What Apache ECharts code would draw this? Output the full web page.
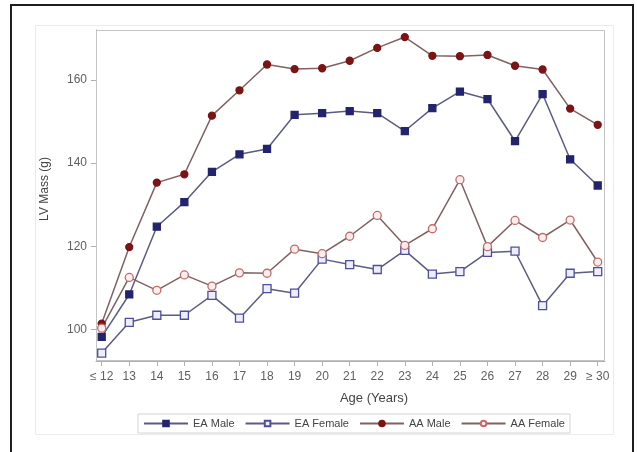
<!DOCTYPE html>
<html>
<head>
<meta charset="utf-8">
<script src="https://cdn.jsdelivr.net/npm/echarts@6/dist/echarts.min.js"></script>
<style>
  html, body { margin: 0; padding: 0; background: #fff; }
  #chart { width: 637px; height: 452px; }
</style>
</head>
<body>
<div id="chart"></div>
<script>
// Age groups along the x axis
const ageLabels = ['≤ 12', '13', '14', '15', '16', '17', '18', '19', '20', '21', '22', '23', '24', '25', '26', '27', '28', '29', '≥ 30'];
// Left ventricular mass (g) by age group
const eaMale   = [98.2, 108.4, 124.7, 130.6, 137.9, 142.1, 143.4, 151.6, 152.0, 152.5, 152.0, 147.7, 153.2, 157.2, 155.4, 145.3, 156.6, 140.9, 134.6];
const eaFemale = [94.3, 101.7, 103.4, 103.4, 108.2, 102.7, 109.8, 108.7, 116.9, 115.6, 114.4, 119.0, 113.3, 113.9, 118.5, 118.8, 105.7, 113.5, 113.9];
const aaMale   = [101.4, 119.8, 135.3, 137.3, 151.4, 157.5, 163.7, 162.6, 162.8, 164.6, 167.7, 170.3, 165.8, 165.7, 166.0, 163.4, 162.5, 153.1, 149.2];
const aaFemale = [100.3, 112.5, 109.4, 113.1, 110.4, 113.6, 113.5, 119.3, 118.2, 122.4, 127.4, 120.2, 124.2, 136.0, 119.9, 126.2, 122.1, 126.3, 116.2];
// Value axis ticks
const yTicks = [100, 120, 140, 160];

const ageIdx = ageLabels.map((_, i) => i);
const pairs = vals => vals.map((v, i) => [i, v]);

const axisGray = '#b0b0b0';
const textGray = '#606060';
const font = 'Liberation Sans, Arial, sans-serif';

const chart = echarts.init(document.getElementById('chart'), null, { renderer: 'canvas' });

function lineSeries(name, vals, lineColor, symbol, size, fill, stroke) {
  return {
    name: name,
    type: 'line',
    data: pairs(vals),
    symbol: symbol,
    symbolSize: size,
    showAllSymbol: true,
    lineStyle: { color: lineColor, width: 1.5 },
    itemStyle: { color: fill, borderColor: stroke, borderWidth: 1.3 },
    emphasis: { disabled: true },
    z: 3
  };
}

chart.setOption({
  animation: false,
  backgroundColor: '#fff',
  textStyle: { fontFamily: font },
  grid: { left: 96, top: 30, width: 509, height: 331, show: false, containLabel: false },
  xAxis: {
    type: 'value',
    min: -0.207,
    max: 18.265,
    axisLine: { show: true, onZero: false, lineStyle: { color: axisGray, width: 1 } },
    axisTick: { show: true, length: 5, lineStyle: { color: axisGray }, customValues: ageIdx },
    axisLabel: {
      customValues: ageIdx,
      formatter: v => ageLabels[Math.round(v)],
      color: textGray, fontSize: 12, margin: 10, fontFamily: font
    },
    splitLine: { show: false }
  },
  yAxis: {
    type: 'value',
    min: 92.4,
    max: 172,
    axisLine: { show: true, onZero: false, lineStyle: { color: axisGray, width: 1 } },
    axisTick: { show: true, length: 5, lineStyle: { color: axisGray }, customValues: yTicks },
    axisLabel: { customValues: yTicks, color: textGray, fontSize: 12, margin: 9, fontFamily: font },
    splitLine: { show: false }
  },
  legend: {
    left: 138,
    top: 414,
    orient: 'horizontal',
    itemWidth: 44,
    itemHeight: 7,
    itemGap: 10,
    padding: [4, 5],
    borderColor: '#d4d4d4',
    borderWidth: 1,
    textStyle: { color: '#444', fontSize: 11, fontFamily: font },
    data: ['EA Male', 'EA Female', 'AA Male', 'AA Female']
  },
  graphic: [
    // outer frame
    { type: 'rect', silent: true, z: 10,
      shape: { x: 11, y: 5, width: 622, height: 470 },
      style: { fill: 'none', stroke: '#1e1e1e', lineWidth: 2 } },
    // graph boundary
    { type: 'rect', silent: true, z: 0,
      shape: { x: 35.5, y: 25.5, width: 578, height: 409 },
      style: { fill: 'none', stroke: '#ebebeb', lineWidth: 1 } },
    // plot wall outline
    { type: 'rect', silent: true, z: 1,
      shape: { x: 96.5, y: 30.5, width: 508, height: 330 },
      style: { fill: 'none', stroke: '#c4c4c4', lineWidth: 1 } },
    { type: 'text', silent: true, x: 45, y: 189, rotation: Math.PI / 2,
      style: { text: 'LV Mass (g)', fill: '#444', fontSize: 12, fontFamily: font,
               textAlign: 'center', textVerticalAlign: 'middle' } },
    { type: 'text', silent: true, x: 374, y: 398,
      style: { text: 'Age (Years)', fill: '#444', fontSize: 13, fontFamily: font,
               textAlign: 'center', textVerticalAlign: 'middle' } }
  ],
  series: [
    lineSeries('EA Male', eaMale, '#5c5c80', 'rect', 7, '#23236e', '#23236e'),
    lineSeries('EA Female', eaFemale, '#5c5c80', 'rect', 8, '#eeeefa', '#4e4e9c'),
    lineSeries('AA Male', aaMale, '#806262', 'circle', 7, '#7c1414', '#7c1414'),
    lineSeries('AA Female', aaFemale, '#806262', 'circle', 8, '#fbeeee', '#c46a6a')
  ]
});
</script>
</body>
</html>
